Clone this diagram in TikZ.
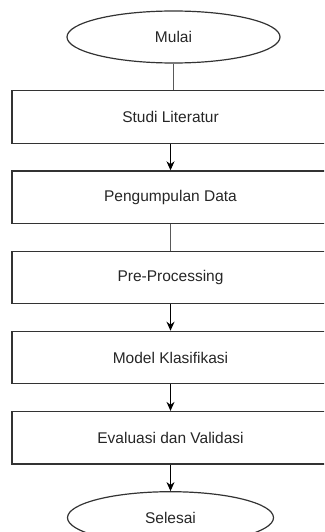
\documentclass[tikz,border=0pt]{standalone}
\usepackage{fontspec}
\setmainfont{Liberation Sans}
\usetikzlibrary{
        arrows.meta,
        positioning,
        shapes.geometric
    }
\tikzset{>={Stealth[length=9pt,width=8pt]},auto,node distance=26.5pt}
\tikzset{every node/.style={font=\fontsize{15.5}{18}\selectfont,text=black!85}}
\tikzset{terminal/.style={ellipse,draw=black!80,line width=1.2pt,minimum width=213pt,minimum height=52pt,inner sep=0pt}}
\tikzset{process/.style={rectangle,draw=black!80,line width=1.2pt,minimum width=317pt,minimum height=52.5pt,inner sep=0pt}}
\tikzset{plainline/.style={draw=black!65,line width=1.1pt}}
\tikzset{flowline/.style={->,draw=black,line width=1.1pt}}

\begin{document}
\begin{tikzpicture}
    \useasboundingbox (0,0) rectangle (324pt,-532pt);
    \clip (0,0) rectangle (324pt,-532pt);
                \node[terminal] (mulai) at (173.5pt,-37pt) {Mulai};
                \node[process] (studi) [below=of mulai, xshift=-3pt] {Studi Literatur};
                \node[process] (data) [below=of studi] {Pengumpulan Data};
                \node[process] (prepro) [below=of data] {Pre-Processing};
                \node[process] (model) [below=of prepro] {Model Klasifikasi};
                \node[process] (evaluasi) [below=of model] {Evaluasi dan Validasi};
                \node[terminal,minimum width=206pt] (selesai) [below=of evaluasi] {Selesai};
                \draw[plainline] (mulai) -- (studi.north -| mulai);
                \draw[plainline] (data) -- (prepro);
                \path[flowline]
                    (studi) edge (data)
                    (prepro) edge (model)
                    (model) edge (evaluasi)
                    (evaluasi) edge (selesai)
                ;
            \end{tikzpicture}
\end{document}
